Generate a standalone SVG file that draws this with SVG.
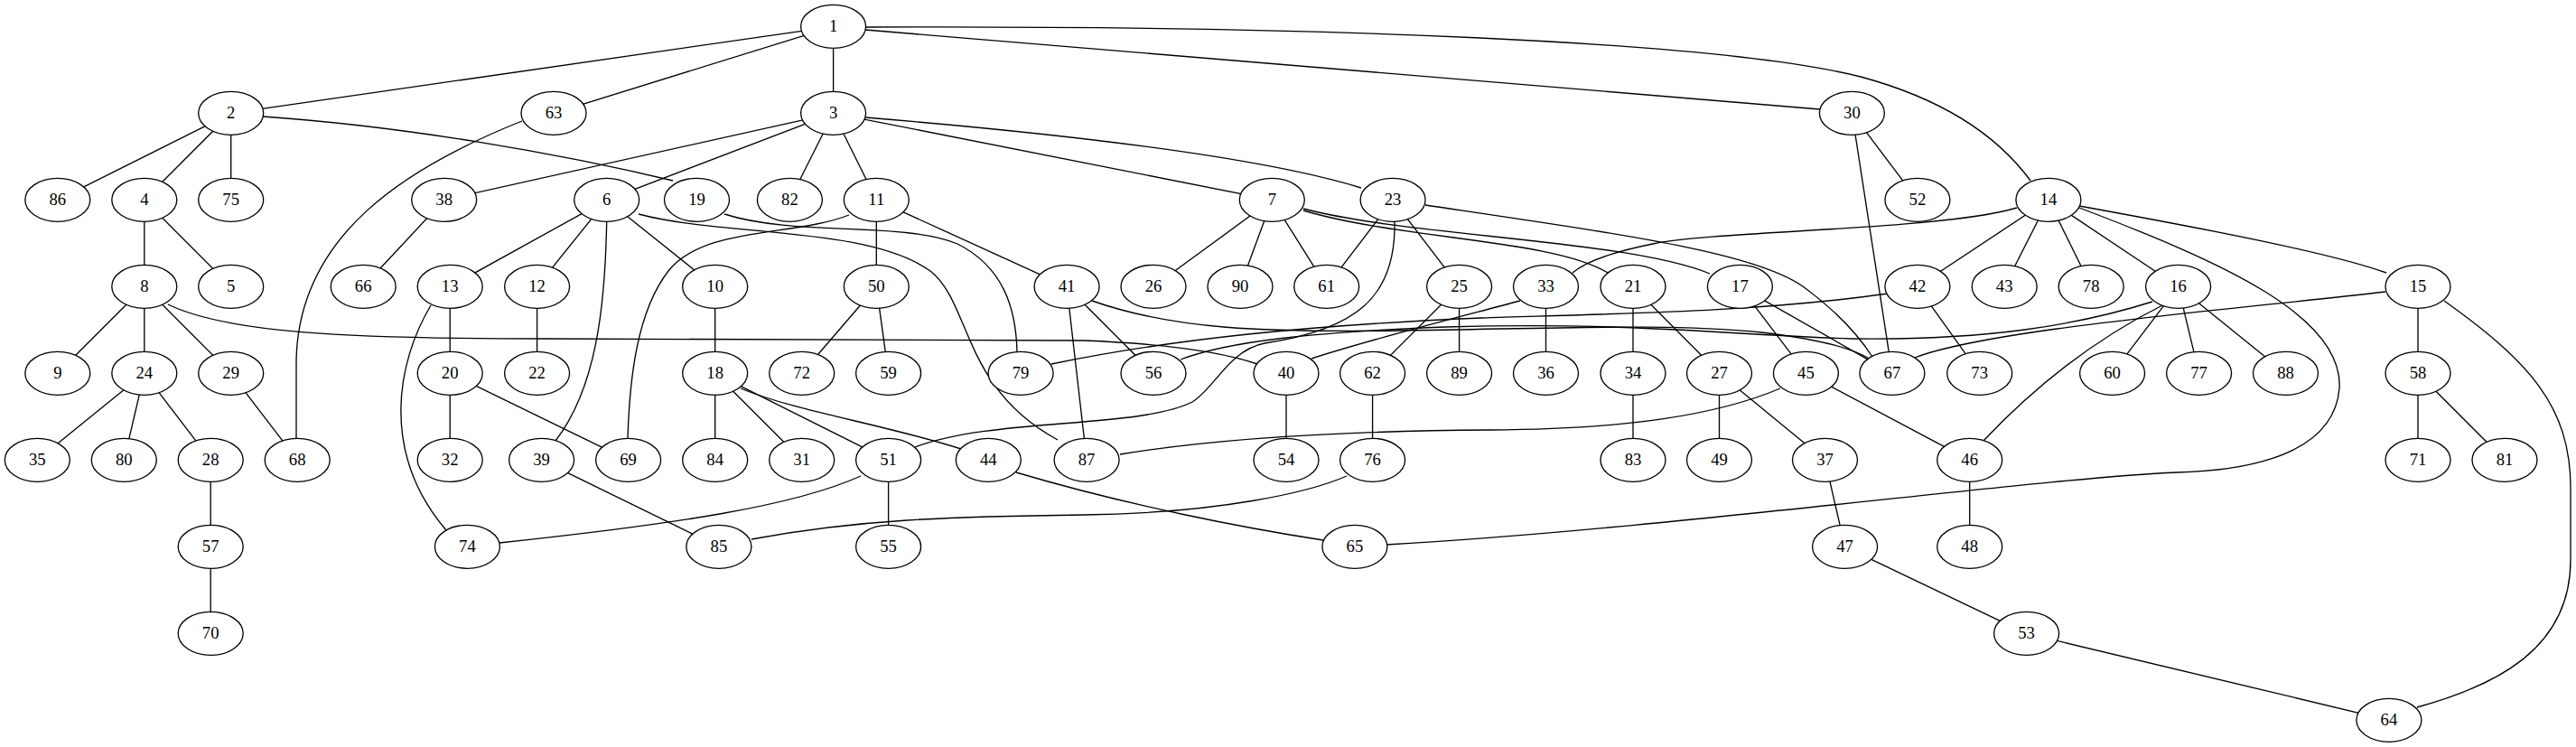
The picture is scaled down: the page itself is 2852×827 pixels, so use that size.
<svg xmlns="http://www.w3.org/2000/svg" width="2852" height="827" viewBox="0 0 2852 827">
<style>
.e path{fill:none;stroke:#000;stroke-width:1.33}
.n ellipse{fill:#fff;stroke:#000;stroke-width:1.33}
.n text{font-family:"Liberation Serif","Times New Roman",serif;font-size:18.67px;text-anchor:middle;fill:#000}
</style>
<rect width="2852" height="827" fill="#fff"/>
<g id="edges" class="e">
<path d="M922.6,29.3 L922.6,125.3"/>
<path d="M922.6,29.3 L255.7,125.3"/>
<path d="M922.6,29.3 L613,125.3"/>
<path d="M958,33 L2015,121"/>
<path d="M958,30 C1450,28 1900,45 2060,85 C2160,112 2215,155 2248,200"/>
<path d="M255.7,125.3 L63.8,221.3"/>
<path d="M255.7,125.3 L159.8,221.3"/>
<path d="M255.7,125.3 L255.7,221.3"/>
<path d="M291,129 C450,140 620,170 745,200"/>
<path d="M578,134 C450,185 330,260 328,400 L328,486"/>
<path d="M922.6,125.3 L491.7,221.3"/>
<path d="M922.6,125.3 L671.7,221.3"/>
<path d="M922.6,125.3 L874.4,221.3"/>
<path d="M922.6,125.3 L970.3,221.3"/>
<path d="M922.6,125.3 L1408.3,221.3"/>
<path d="M958,130 C1200,150 1400,175 1507,208"/>
<path d="M2050.4,125.3 L2122.9,221.3"/>
<path d="M2050.4,125.3 L2094.9,413.3"/>
<path d="M159.8,221.3 L159.8,317.3"/>
<path d="M159.8,221.3 L255.7,317.3"/>
<path d="M491.7,221.3 L402.2,317.3"/>
<path d="M671.7,221.3 L498.2,317.3"/>
<path d="M671.7,221.3 L594.6,317.3"/>
<path d="M671.7,221.3 L791.7,317.3"/>
<path d="M671.7,245 C670,340 660,430 615,488"/>
<path d="M707,237 C800,262 960,250 1030,300 C1075,335 1065,430 1171,487"/>
<path d="M802,237 C880,262 1000,245 1060,270 C1110,295 1125,340 1126,390"/>
<path d="M970.3,221.3 L970.3,317.3"/>
<path d="M970.3,221.3 L1181.1,317.3"/>
<path d="M940,238 C880,262 780,250 740,300 C705,345 697,420 695,485"/>
<path d="M1408.3,221.3 L1277,317.3"/>
<path d="M1408.3,221.3 L1373,317.3"/>
<path d="M1408.3,221.3 L1468.7,317.3"/>
<path d="M1443,233 C1550,265 1720,265 1780,302"/>
<path d="M1443,231 C1560,262 1800,265 1893,303"/>
<path d="M1542.1,221.3 L1468.7,317.3"/>
<path d="M1542.1,221.3 L1615.6,317.3"/>
<path d="M1578,227 C1800,260 1950,280 2000,320 C2040,350 2060,375 2073,395"/>
<path d="M1544,245 C1546,330 1500,365 1400,380 C1360,388 1345,430 1320,445 C1260,475 1100,462 1013,495"/>
<path d="M2267.9,221.3 L2122.9,317.3"/>
<path d="M2267.9,221.3 L2219.2,317.3"/>
<path d="M2267.9,221.3 L2315.2,317.3"/>
<path d="M2267.9,221.3 L2411.6,317.3"/>
<path d="M2302,228 C2450,255 2580,280 2642,302"/>
<path d="M2233,230 C2150,255 1900,255 1830,270 C1780,280 1755,290 1741,302"/>
<path d="M2302,230 C2460,290 2595,350 2590,430 C2585,490 2520,520 2410,523 C2250,530 1850,585 1535,603"/>
<path d="M159.8,317.3 L63.8,413.3"/>
<path d="M159.8,317.3 L159.8,413.3"/>
<path d="M159.8,317.3 L255.7,413.3"/>
<path d="M186,337 C250,368 380,375 600,375 L1200,377 C1300,381 1360,392 1392,403"/>
<path d="M498.2,317.3 L498.2,413.3"/>
<path d="M477,338 C440,400 420,500 494,587"/>
<path d="M594.6,317.3 L594.6,413.3"/>
<path d="M791.7,317.3 L791.7,413.3"/>
<path d="M970.3,317.3 L887.7,413.3"/>
<path d="M970.3,317.3 L983.6,413.3"/>
<path d="M1181.1,317.3 L1203.1,509.3"/>
<path d="M1181.1,317.3 L1277,413.3"/>
<path d="M1209,333 C1300,365 1400,368 1550,366 C1750,363 1850,358 1950,368 C2010,375 2050,385 2069,397"/>
<path d="M1307,398 C1360,378 1450,368 1600,362 C1800,356 1900,370 2050,375 C2200,377 2300,360 2383,334"/>
<path d="M1164,403 C1300,375 1450,360 1640,352 C1800,347 1950,345 2090,325"/>
<path d="M1683,333 C1600,355 1520,375 1452,397"/>
<path d="M1615.6,317.3 L1519.6,413.3"/>
<path d="M1615.6,317.3 L1615.6,413.3"/>
<path d="M1711.5,317.3 L1711.5,413.3"/>
<path d="M1808,317.3 L1808,413.3"/>
<path d="M1808,317.3 L1903.5,413.3"/>
<path d="M1926.4,317.3 L1999.4,413.3"/>
<path d="M1926.4,317.3 L2094.9,413.3"/>
<path d="M2122.9,317.3 L2191.7,413.3"/>
<path d="M2411.6,317.3 L2338.6,413.3"/>
<path d="M2411.6,317.3 L2434.6,413.3"/>
<path d="M2411.6,317.3 L2530.5,413.3"/>
<path d="M2396,337 C2330,370 2260,420 2196,488"/>
<path d="M2677,317.3 L2677,413.3"/>
<path d="M2641,323 C2450,345 2200,365 2120,396"/>
<path d="M2706,333 C2800,400 2846,450 2846,540 L2846,620 C2846,720 2760,760 2676,783"/>
<path d="M159.8,413.3 L41.3,509.3"/>
<path d="M159.8,413.3 L137.3,509.3"/>
<path d="M159.8,413.3 L233.2,509.3"/>
<path d="M255.7,413.3 L329.2,509.3"/>
<path d="M498.2,413.3 L498.2,509.3"/>
<path d="M498.2,413.3 L695.6,509.3"/>
<path d="M791.7,413.3 L791.7,509.3"/>
<path d="M791.7,413.3 L887.7,509.3"/>
<path d="M791.7,413.3 L983.6,509.3"/>
<path d="M820,430 C880,455 980,470 1064,497"/>
<path d="M1424,413.3 L1424,509.3"/>
<path d="M1519.6,413.3 L1519.6,509.3"/>
<path d="M1808,413.3 L1808,509.3"/>
<path d="M1903.5,413.3 L1903.5,509.3"/>
<path d="M1903.5,413.3 L2020.5,509.3"/>
<path d="M1999.4,413.3 L2180.7,509.3"/>
<path d="M1971,430 C1900,460 1800,475 1650,476 C1500,477 1350,485 1240,503"/>
<path d="M2677,413.3 L2677,509.3"/>
<path d="M2677,413.3 L2773,509.3"/>
<path d="M233.2,509.3 L233.2,605.3"/>
<path d="M599.6,509.3 L795.9,605.3"/>
<path d="M983.6,509.3 L983.6,605.3"/>
<path d="M953,527 C880,560 750,580 553,601"/>
<path d="M1125,523 C1250,560 1380,585 1465,598"/>
<path d="M1491,527 C1450,545 1350,568 1200,570 C1050,572 950,575 832,597"/>
<path d="M2020.5,509.3 L2042.6,605.3"/>
<path d="M2180.7,509.3 L2180.7,605.3"/>
<path d="M233.2,605.3 L233.2,701.3"/>
<path d="M2042.6,605.3 L2243.6,701.3"/>
<path d="M2243.6,701.3 L2644.9,797.3"/>
</g>
<g id="n1" class="n"><ellipse cx="922.6" cy="29.3" rx="36" ry="24"/><text x="922.6" y="34.9">1</text></g>
<g id="n2" class="n"><ellipse cx="255.7" cy="125.3" rx="36" ry="24"/><text x="255.7" y="130.9">2</text></g>
<g id="n63" class="n"><ellipse cx="613" cy="125.3" rx="36" ry="24"/><text x="613" y="130.9">63</text></g>
<g id="n3" class="n"><ellipse cx="922.6" cy="125.3" rx="36" ry="24"/><text x="922.6" y="130.9">3</text></g>
<g id="n30" class="n"><ellipse cx="2050.4" cy="125.3" rx="36" ry="24"/><text x="2050.4" y="130.9">30</text></g>
<g id="n86" class="n"><ellipse cx="63.8" cy="221.3" rx="36" ry="24"/><text x="63.8" y="226.9">86</text></g>
<g id="n4" class="n"><ellipse cx="159.8" cy="221.3" rx="36" ry="24"/><text x="159.8" y="226.9">4</text></g>
<g id="n75" class="n"><ellipse cx="255.7" cy="221.3" rx="36" ry="24"/><text x="255.7" y="226.9">75</text></g>
<g id="n38" class="n"><ellipse cx="491.7" cy="221.3" rx="36" ry="24"/><text x="491.7" y="226.9">38</text></g>
<g id="n6" class="n"><ellipse cx="671.7" cy="221.3" rx="36" ry="24"/><text x="671.7" y="226.9">6</text></g>
<g id="n19" class="n"><ellipse cx="771.5" cy="221.3" rx="36" ry="24"/><text x="771.5" y="226.9">19</text></g>
<g id="n82" class="n"><ellipse cx="874.4" cy="221.3" rx="36" ry="24"/><text x="874.4" y="226.9">82</text></g>
<g id="n11" class="n"><ellipse cx="970.3" cy="221.3" rx="36" ry="24"/><text x="970.3" y="226.9">11</text></g>
<g id="n7" class="n"><ellipse cx="1408.3" cy="221.3" rx="36" ry="24"/><text x="1408.3" y="226.9">7</text></g>
<g id="n23" class="n"><ellipse cx="1542.1" cy="221.3" rx="36" ry="24"/><text x="1542.1" y="226.9">23</text></g>
<g id="n52" class="n"><ellipse cx="2122.9" cy="221.3" rx="36" ry="24"/><text x="2122.9" y="226.9">52</text></g>
<g id="n14" class="n"><ellipse cx="2267.9" cy="221.3" rx="36" ry="24"/><text x="2267.9" y="226.9">14</text></g>
<g id="n8" class="n"><ellipse cx="159.8" cy="317.3" rx="36" ry="24"/><text x="159.8" y="322.9">8</text></g>
<g id="n5" class="n"><ellipse cx="255.7" cy="317.3" rx="36" ry="24"/><text x="255.7" y="322.9">5</text></g>
<g id="n66" class="n"><ellipse cx="402.2" cy="317.3" rx="36" ry="24"/><text x="402.2" y="322.9">66</text></g>
<g id="n13" class="n"><ellipse cx="498.2" cy="317.3" rx="36" ry="24"/><text x="498.2" y="322.9">13</text></g>
<g id="n12" class="n"><ellipse cx="594.6" cy="317.3" rx="36" ry="24"/><text x="594.6" y="322.9">12</text></g>
<g id="n10" class="n"><ellipse cx="791.7" cy="317.3" rx="36" ry="24"/><text x="791.7" y="322.9">10</text></g>
<g id="n50" class="n"><ellipse cx="970.3" cy="317.3" rx="36" ry="24"/><text x="970.3" y="322.9">50</text></g>
<g id="n41" class="n"><ellipse cx="1181.1" cy="317.3" rx="36" ry="24"/><text x="1181.1" y="322.9">41</text></g>
<g id="n26" class="n"><ellipse cx="1277" cy="317.3" rx="36" ry="24"/><text x="1277" y="322.9">26</text></g>
<g id="n90" class="n"><ellipse cx="1373" cy="317.3" rx="36" ry="24"/><text x="1373" y="322.9">90</text></g>
<g id="n61" class="n"><ellipse cx="1468.7" cy="317.3" rx="36" ry="24"/><text x="1468.7" y="322.9">61</text></g>
<g id="n25" class="n"><ellipse cx="1615.6" cy="317.3" rx="36" ry="24"/><text x="1615.6" y="322.9">25</text></g>
<g id="n33" class="n"><ellipse cx="1711.5" cy="317.3" rx="36" ry="24"/><text x="1711.5" y="322.9">33</text></g>
<g id="n21" class="n"><ellipse cx="1808" cy="317.3" rx="36" ry="24"/><text x="1808" y="322.9">21</text></g>
<g id="n17" class="n"><ellipse cx="1926.4" cy="317.3" rx="36" ry="24"/><text x="1926.4" y="322.9">17</text></g>
<g id="n42" class="n"><ellipse cx="2122.9" cy="317.3" rx="36" ry="24"/><text x="2122.9" y="322.9">42</text></g>
<g id="n43" class="n"><ellipse cx="2219.2" cy="317.3" rx="36" ry="24"/><text x="2219.2" y="322.9">43</text></g>
<g id="n78" class="n"><ellipse cx="2315.2" cy="317.3" rx="36" ry="24"/><text x="2315.2" y="322.9">78</text></g>
<g id="n16" class="n"><ellipse cx="2411.6" cy="317.3" rx="36" ry="24"/><text x="2411.6" y="322.9">16</text></g>
<g id="n15" class="n"><ellipse cx="2677" cy="317.3" rx="36" ry="24"/><text x="2677" y="322.9">15</text></g>
<g id="n9" class="n"><ellipse cx="63.8" cy="413.3" rx="36" ry="24"/><text x="63.8" y="418.9">9</text></g>
<g id="n24" class="n"><ellipse cx="159.8" cy="413.3" rx="36" ry="24"/><text x="159.8" y="418.9">24</text></g>
<g id="n29" class="n"><ellipse cx="255.7" cy="413.3" rx="36" ry="24"/><text x="255.7" y="418.9">29</text></g>
<g id="n20" class="n"><ellipse cx="498.2" cy="413.3" rx="36" ry="24"/><text x="498.2" y="418.9">20</text></g>
<g id="n22" class="n"><ellipse cx="594.6" cy="413.3" rx="36" ry="24"/><text x="594.6" y="418.9">22</text></g>
<g id="n18" class="n"><ellipse cx="791.7" cy="413.3" rx="36" ry="24"/><text x="791.7" y="418.9">18</text></g>
<g id="n72" class="n"><ellipse cx="887.7" cy="413.3" rx="36" ry="24"/><text x="887.7" y="418.9">72</text></g>
<g id="n59" class="n"><ellipse cx="983.6" cy="413.3" rx="36" ry="24"/><text x="983.6" y="418.9">59</text></g>
<g id="n79" class="n"><ellipse cx="1130.1" cy="413.3" rx="36" ry="24"/><text x="1130.1" y="418.9">79</text></g>
<g id="n56" class="n"><ellipse cx="1277" cy="413.3" rx="36" ry="24"/><text x="1277" y="418.9">56</text></g>
<g id="n40" class="n"><ellipse cx="1424" cy="413.3" rx="36" ry="24"/><text x="1424" y="418.9">40</text></g>
<g id="n62" class="n"><ellipse cx="1519.6" cy="413.3" rx="36" ry="24"/><text x="1519.6" y="418.9">62</text></g>
<g id="n89" class="n"><ellipse cx="1615.6" cy="413.3" rx="36" ry="24"/><text x="1615.6" y="418.9">89</text></g>
<g id="n36" class="n"><ellipse cx="1711.5" cy="413.3" rx="36" ry="24"/><text x="1711.5" y="418.9">36</text></g>
<g id="n34" class="n"><ellipse cx="1808" cy="413.3" rx="36" ry="24"/><text x="1808" y="418.9">34</text></g>
<g id="n27" class="n"><ellipse cx="1903.5" cy="413.3" rx="36" ry="24"/><text x="1903.5" y="418.9">27</text></g>
<g id="n45" class="n"><ellipse cx="1999.4" cy="413.3" rx="36" ry="24"/><text x="1999.4" y="418.9">45</text></g>
<g id="n67" class="n"><ellipse cx="2094.9" cy="413.3" rx="36" ry="24"/><text x="2094.9" y="418.9">67</text></g>
<g id="n73" class="n"><ellipse cx="2191.7" cy="413.3" rx="36" ry="24"/><text x="2191.7" y="418.9">73</text></g>
<g id="n60" class="n"><ellipse cx="2338.6" cy="413.3" rx="36" ry="24"/><text x="2338.6" y="418.9">60</text></g>
<g id="n77" class="n"><ellipse cx="2434.6" cy="413.3" rx="36" ry="24"/><text x="2434.6" y="418.9">77</text></g>
<g id="n88" class="n"><ellipse cx="2530.5" cy="413.3" rx="36" ry="24"/><text x="2530.5" y="418.9">88</text></g>
<g id="n58" class="n"><ellipse cx="2677" cy="413.3" rx="36" ry="24"/><text x="2677" y="418.9">58</text></g>
<g id="n35" class="n"><ellipse cx="41.3" cy="509.3" rx="36" ry="24"/><text x="41.3" y="514.9">35</text></g>
<g id="n80" class="n"><ellipse cx="137.3" cy="509.3" rx="36" ry="24"/><text x="137.3" y="514.9">80</text></g>
<g id="n28" class="n"><ellipse cx="233.2" cy="509.3" rx="36" ry="24"/><text x="233.2" y="514.9">28</text></g>
<g id="n68" class="n"><ellipse cx="329.2" cy="509.3" rx="36" ry="24"/><text x="329.2" y="514.9">68</text></g>
<g id="n32" class="n"><ellipse cx="498.2" cy="509.3" rx="36" ry="24"/><text x="498.2" y="514.9">32</text></g>
<g id="n39" class="n"><ellipse cx="599.6" cy="509.3" rx="36" ry="24"/><text x="599.6" y="514.9">39</text></g>
<g id="n69" class="n"><ellipse cx="695.6" cy="509.3" rx="36" ry="24"/><text x="695.6" y="514.9">69</text></g>
<g id="n84" class="n"><ellipse cx="791.7" cy="509.3" rx="36" ry="24"/><text x="791.7" y="514.9">84</text></g>
<g id="n31" class="n"><ellipse cx="887.7" cy="509.3" rx="36" ry="24"/><text x="887.7" y="514.9">31</text></g>
<g id="n51" class="n"><ellipse cx="983.6" cy="509.3" rx="36" ry="24"/><text x="983.6" y="514.9">51</text></g>
<g id="n44" class="n"><ellipse cx="1094.3" cy="509.3" rx="36" ry="24"/><text x="1094.3" y="514.9">44</text></g>
<g id="n87" class="n"><ellipse cx="1203.1" cy="509.3" rx="36" ry="24"/><text x="1203.1" y="514.9">87</text></g>
<g id="n54" class="n"><ellipse cx="1424" cy="509.3" rx="36" ry="24"/><text x="1424" y="514.9">54</text></g>
<g id="n76" class="n"><ellipse cx="1519.6" cy="509.3" rx="36" ry="24"/><text x="1519.6" y="514.9">76</text></g>
<g id="n83" class="n"><ellipse cx="1808" cy="509.3" rx="36" ry="24"/><text x="1808" y="514.9">83</text></g>
<g id="n49" class="n"><ellipse cx="1903.5" cy="509.3" rx="36" ry="24"/><text x="1903.5" y="514.9">49</text></g>
<g id="n37" class="n"><ellipse cx="2020.5" cy="509.3" rx="36" ry="24"/><text x="2020.5" y="514.9">37</text></g>
<g id="n46" class="n"><ellipse cx="2180.7" cy="509.3" rx="36" ry="24"/><text x="2180.7" y="514.9">46</text></g>
<g id="n71" class="n"><ellipse cx="2677" cy="509.3" rx="36" ry="24"/><text x="2677" y="514.9">71</text></g>
<g id="n81" class="n"><ellipse cx="2773" cy="509.3" rx="36" ry="24"/><text x="2773" y="514.9">81</text></g>
<g id="n57" class="n"><ellipse cx="233.2" cy="605.3" rx="36" ry="24"/><text x="233.2" y="610.9">57</text></g>
<g id="n74" class="n"><ellipse cx="517.4" cy="605.3" rx="36" ry="24"/><text x="517.4" y="610.9">74</text></g>
<g id="n85" class="n"><ellipse cx="795.9" cy="605.3" rx="36" ry="24"/><text x="795.9" y="610.9">85</text></g>
<g id="n55" class="n"><ellipse cx="983.6" cy="605.3" rx="36" ry="24"/><text x="983.6" y="610.9">55</text></g>
<g id="n65" class="n"><ellipse cx="1499.9" cy="605.3" rx="36" ry="24"/><text x="1499.9" y="610.9">65</text></g>
<g id="n47" class="n"><ellipse cx="2042.6" cy="605.3" rx="36" ry="24"/><text x="2042.6" y="610.9">47</text></g>
<g id="n48" class="n"><ellipse cx="2180.7" cy="605.3" rx="36" ry="24"/><text x="2180.7" y="610.9">48</text></g>
<g id="n70" class="n"><ellipse cx="233.2" cy="701.3" rx="36" ry="24"/><text x="233.2" y="706.9">70</text></g>
<g id="n53" class="n"><ellipse cx="2243.6" cy="701.3" rx="36" ry="24"/><text x="2243.6" y="706.9">53</text></g>
<g id="n64" class="n"><ellipse cx="2644.9" cy="797.3" rx="36" ry="24"/><text x="2644.9" y="802.9">64</text></g>
</svg>
